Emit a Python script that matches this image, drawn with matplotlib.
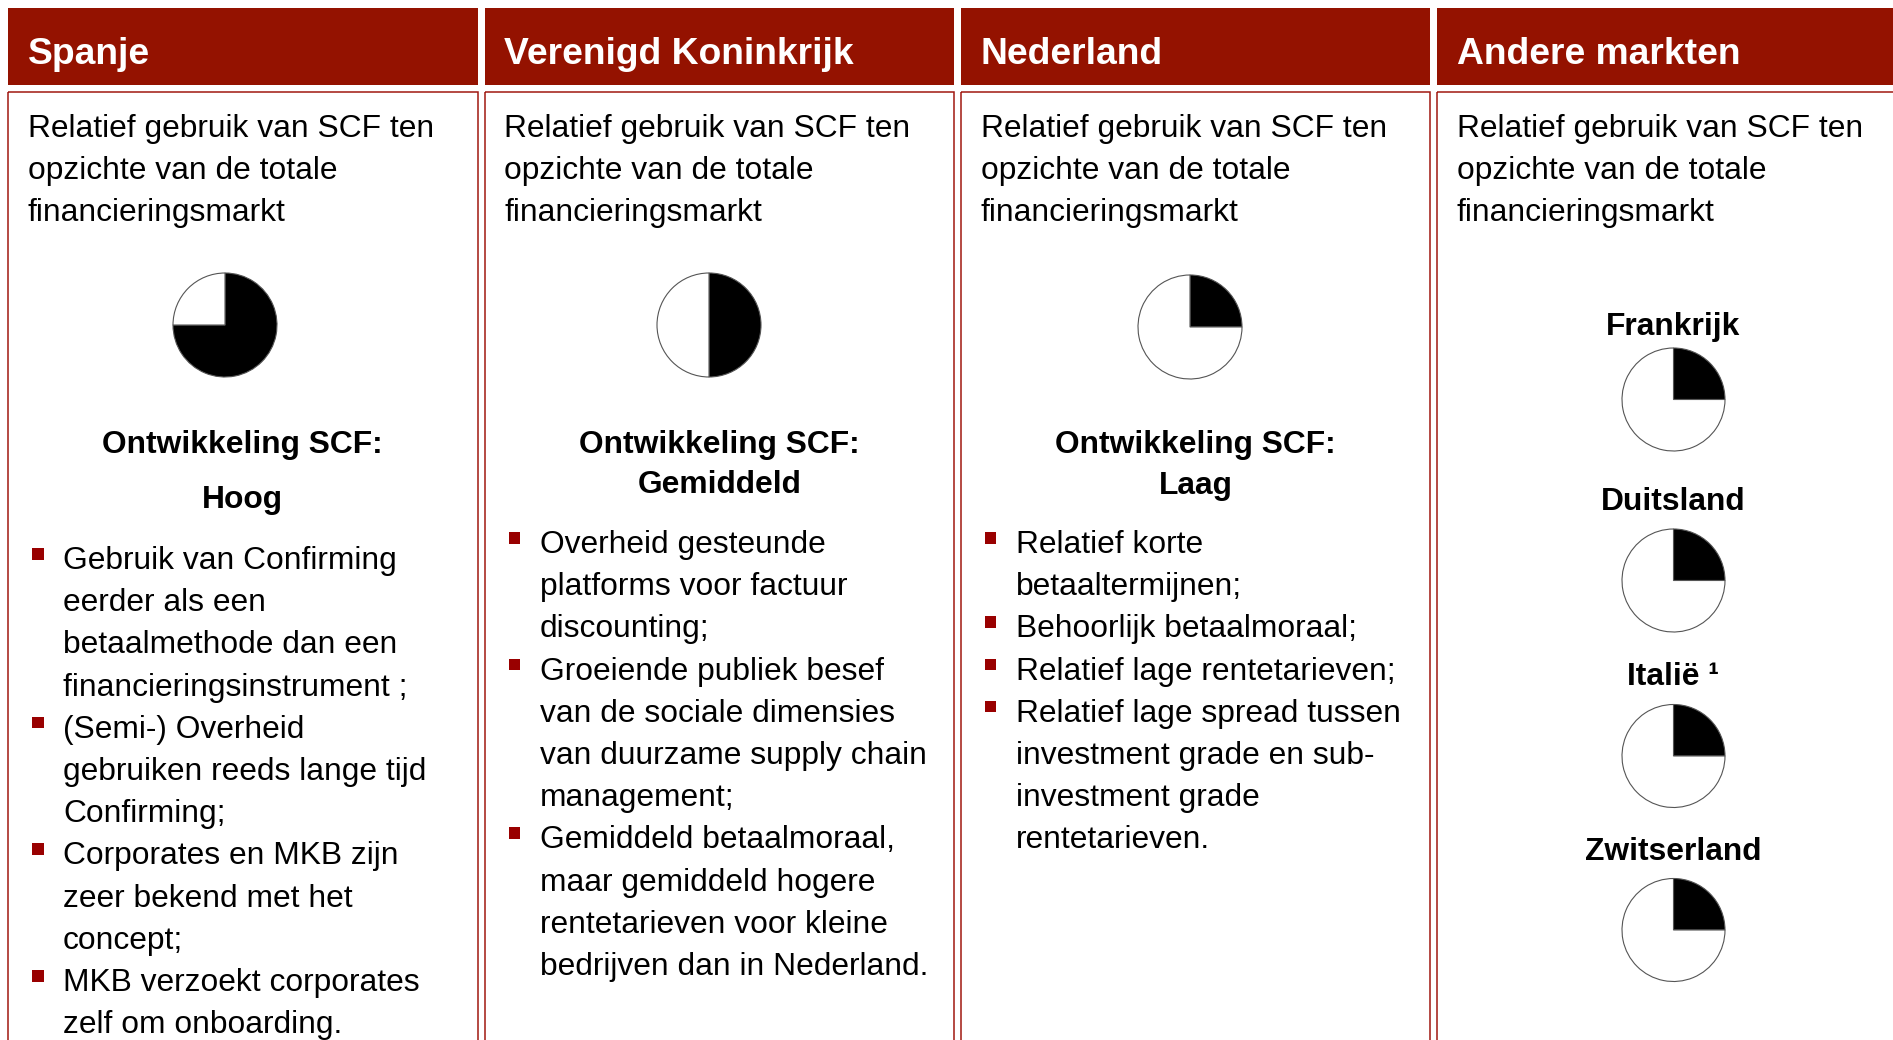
# SCF markt-overzicht: vier kolommen met koptekst, taartdiagrammen en opsommingen
import matplotlib.pyplot as plt
from matplotlib.patches import Rectangle

plt.rcParams['font.family'] = ['Liberation Sans', 'DejaVu Sans']

# ---- data ----
headers = ['Spanje', 'Verenigd Koninkrijk', 'Nederland', 'Andere markten']
intro_lines = ['Relatief gebruik van SCF ten', 'opzichte van de totale', 'financieringsmarkt']

# aandeel SCF (zwart deel van de taart, in %)
scf_share = [75, 50, 25]
levels = ['Hoog', 'Gemiddeld', 'Laag']

other_markets = ['Frankrijk', 'Duitsland', 'Italië ¹', 'Zwitserland']
other_share = [25, 25, 25, 25]

bullets_es = [
    ['Gebruik van Confirming', 'eerder als een', 'betaalmethode dan een', 'financieringsinstrument ;'],
    ['(Semi-) Overheid', 'gebruiken reeds lange tijd', 'Confirming;'],
    ['Corporates en MKB zijn', 'zeer bekend met het', 'concept;'],
    ['MKB verzoekt corporates', 'zelf om onboarding.'],
]
bullets_uk = [
    ['Overheid gesteunde', 'platforms voor factuur', 'discounting;'],
    ['Groeiende publiek besef', 'van de sociale dimensies', 'van duurzame supply chain', 'management;'],
    ['Gemiddeld betaalmoraal,', 'maar gemiddeld hogere', 'rentetarieven voor kleine', 'bedrijven dan in Nederland.'],
]
bullets_nl = [
    ['Relatief korte', 'betaaltermijnen;'],
    ['Behoorlijk betaalmoraal;'],
    ['Relatief lage rentetarieven;'],
    ['Relatief lage spread tussen', 'investment grade en sub-', 'investment grade', 'rentetarieven.'],
]
bullet_sets = [bullets_es, bullets_uk, bullets_nl]

# ---- layout (pixels, y downwards) ----
W, H = 1893, 1040
RED = '#941200'
BULLET_RED = '#990000'
col_left = [8, 484.5, 960.7, 1436.7]
col_w = 469.5

fig = plt.figure(figsize=(W / 100, H / 100), dpi=100)
ax = fig.add_axes([0, 0, 1, 1])

FS = 22.9
for i, name in enumerate(headers):
    x0 = col_left[i]
    ax.add_patch(Rectangle((x0, 8), col_w, 77, facecolor=RED, edgecolor='none'))
    ax.text(x0 + 20, 63.5, name, color='white', fontsize=26.8, fontweight='bold', va='baseline')
    ax.add_patch(Rectangle((x0, 92), col_w, 1000, facecolor='none', edgecolor='#A01810', lw=1.1))
    for k, line in enumerate(intro_lines):
        ax.text(x0 + 20, 137 + k * 41.8, line, fontsize=FS, va='baseline')

# taarten van de eerste drie kolommen
pie_xy = [(225, 325), (709, 325), (1190, 327)]
sub_base = [(453, 508), (453, 493), (453, 494)]
bullet_start = [569, 553, 553]
STEP = 42.2

def draw_pie(share, cx, cy, r=52):
    # y-as staat omgekeerd: start boven en met de klok mee
    ax.pie([share, 100 - share], colors=['black', 'white'], startangle=-90, counterclock=True,
           radius=r, center=(cx, cy), frame=True,
           wedgeprops=dict(edgecolor='#555555', linewidth=0.8))

for i in range(3):
    x0 = col_left[i]
    cx = x0 + col_w / 2
    draw_pie(scf_share[i], *pie_xy[i])
    ax.text(cx, sub_base[i][0], 'Ontwikkeling SCF:', fontsize=FS, fontweight='bold',
            ha='center', va='baseline')
    ax.text(cx, sub_base[i][1], levels[i], fontsize=FS, fontweight='bold',
            ha='center', va='baseline')
    y = bullet_start[i]
    for item in bullet_sets[i]:
        ax.add_patch(Rectangle((x0 + 24, y - 21), 11.5, 11.5, facecolor=BULLET_RED, edgecolor='none'))
        for line in item:
            ax.text(x0 + 55, y, line, fontsize=FS, va='baseline')
            y += STEP

# andere markten
label_base = [334.5, 510, 685, 860]
pie_y = [399.5, 580.5, 756, 930]
for name, share, yb, py in zip(other_markets, other_share, label_base, pie_y):
    ax.text(1673, yb, name, fontsize=FS, fontweight='bold', ha='center', va='baseline')
    draw_pie(share, 1673.5, py, r=51.5)

ax.set_xlim(0, W)
ax.set_ylim(H, 0)
ax.axis('off')
fig.savefig('out.png', dpi=100)
